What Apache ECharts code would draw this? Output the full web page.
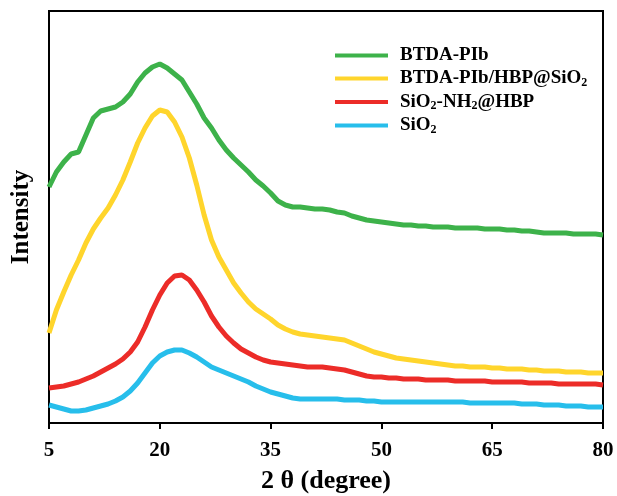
<!DOCTYPE html>
<html>
<head>
<meta charset="utf-8">
<script src="https://cdn.jsdelivr.net/npm/echarts@6/dist/echarts.min.js"></script>
<style>
html,body{margin:0;padding:0;background:#fff;}
#chart{width:617px;height:496px;}
</style>
</head>
<body>
<div id="chart"></div>
<script>
// 2θ (degree) sample positions
const theta = [5,6,7,8,9,10,11,12,13,14,15,16,17,18,19,20,21,22,23,24,25,26,27,28,29,30,31,32,33,34,35,36,37,38,39,40,41,42,43,44,45,46,47,48,49,50,51,52,53,54,55,56,57,58,59,60,61,62,63,64,65,66,67,68,69,70,71,72,73,74,75,76,77,78,79,80];

// Intensity (arbitrary units, offset curves as drawn)
const btdaPIb = [236,251,261,269,271,288,305,312,314,316,
  321,329,341,350,356,359,355,349,343,331,
  319,305,295,283,273,265,258,251,243,237,
  230,222,218,216,216,215,214,214,213,211,
  210,207,205,203,202,201,200,199,198,198,
  197,197,196,196,196,195,195,195,195,194,
  194,194,193,193,192,192,191,190,190,190,
  190,189,189,189,189,188];

const btdaPIbHBPSiO2 = [90,113,131,148,163,180,194,205,215,228,
  243,261,280,295,307,313,311,301,286,265,
  238,208,183,166,153,140,130,121,114,109,
  104,98,94,91,89,88,87,86,85,84,
  83,80,77,74,71,69,67,65,64,63,
  62,61,60,59,58,57,57,56,56,56,
  55,55,54,54,54,53,53,52,52,52,
  51,51,51,50,50,50];

const sio2NH2HBP = [35,36,37,39,41,44,47,51,55,59,
  64,71,81,96,113,128,140,147,148,143,
  133,121,107,96,87,80,74,70,66,63,
  61,60,59,58,57,56,56,56,55,54,
  53,51,49,47,46,46,45,45,44,44,
  44,43,43,43,43,42,42,42,42,42,
  41,41,41,41,41,40,40,40,40,39,
  39,39,39,39,39,38];

const sio2 = [18,16,14,12,12,13,15,17,19,22,
  26,32,40,50,60,67,71,73,73,70,
  66,61,56,53,50,47,44,41,37,34,
  31,29,27,25,24,24,24,24,24,24,
  23,23,23,22,22,21,21,21,21,21,
  21,21,21,21,21,21,21,20,20,20,
  20,20,20,20,19,19,19,18,18,18,
  17,17,17,16,16,16];

const xTicks = [5,20,35,50,65,80];

const seriesNames = ['BTDA-PIb','BTDA-PIb/HBP@SiO2','SiO2-NH2@HBP','SiO2'];
const legendLabels = ['BTDA-PIb','BTDA-PIb/HBP@SiO{s|2}','SiO{s|2}-NH{s|2}@HBP','SiO{s|2}'];
const colors = ['#3DB24A','#FFD52C','#EC2C28','#27BEEB'];
const seriesData = [btdaPIb, btdaPIbHBPSiO2, sio2NH2HBP, sio2];

const FONT = '"Liberation Serif", "Times New Roman", serif';

const chart = echarts.init(document.getElementById('chart'), null, {renderer:'canvas'});

const option = {
  animation: false,
  backgroundColor: '#fff',
  grid: {left: 49, right: 14, top: 11, bottom: 73, outerBoundsMode: 'none', containLabel: false, show: true, borderColor: '#000', borderWidth: 2, backgroundColor: 'transparent'},
  legend: {
    orient: 'vertical',
    left: 330,
    top: 41,
    itemWidth: 53,
    itemHeight: 4,
    itemGap: 4,
    icon: 'rect',
    data: seriesNames,
    formatter: function (name) { return legendLabels[seriesNames.indexOf(name)]; },
    textStyle: {
      fontFamily: FONT, fontWeight: 'bold', fontSize: 19, color: '#000',
      padding: [0, 0, 0, 7],
      rich: {
        s: {fontFamily: FONT, fontWeight: 'bold', fontSize: 12, color: '#000', padding: [8, 0, 0, 0]}
      }
    }
  },
  xAxis: {
    type: 'value', min: 5, max: 80,
    name: '2 θ (degree)', nameLocation: 'middle', nameGap: 45,
    nameTextStyle: {fontFamily: FONT, fontWeight: 'bold', fontSize: 26, color: '#000'},
    axisLine: {show: true, onZero: false, lineStyle: {color: '#000', width: 2}},
    axisTick: {show: true, customValues: xTicks, length: 6, inside: false, lineStyle: {color: '#000', width: 2}},
    axisLabel: {customValues: xTicks, fontFamily: FONT, fontWeight: 'bold', fontSize: 21, color: '#000', margin: 17},
    splitLine: {show: false}
  },
  yAxis: {
    type: 'value', min: 0, max: 412,
    name: 'Intensity', nameLocation: 'middle', nameGap: 15, nameRotate: 90,
    nameTextStyle: {fontFamily: FONT, fontWeight: 'bold', fontSize: 25, color: '#000'},
    axisLine: {show: true, lineStyle: {color: '#000', width: 2}},
    axisTick: {show: false},
    axisLabel: {show: false},
    splitLine: {show: false}
  },
  series: seriesNames.map(function (n, k) {
    return {
      name: n, type: 'line', showSymbol: false, symbol: 'none',
      color: colors[k],
      lineStyle: {color: colors[k], width: 5},
      data: theta.map(function (t, i) { return [t, seriesData[k][i]]; })
    };
  })
};

chart.setOption(option);
</script>
</body>
</html>
